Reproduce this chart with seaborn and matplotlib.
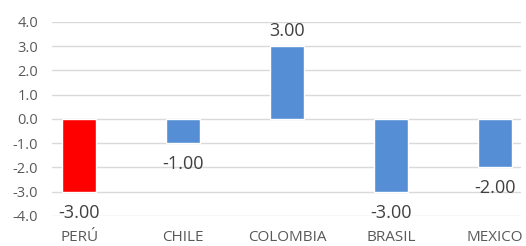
import numpy as np
import pandas as pd
import matplotlib
matplotlib.use("Agg")
import matplotlib.pyplot as plt
import seaborn as sns

# data
countries = ["PERÚ", "CHILE", "COLOMBIA", "BRASIL", "MEXICO"]
values = [-3.0, -1.0, 3.0, -3.0, -2.0]
bar_colors = ["#FF0000", "#558ED5", "#558ED5", "#558ED5", "#558ED5"]

sns.set_style("white")
plt.rcParams["font.family"] = ["Open Sans", "DejaVu Sans"]

df = pd.DataFrame({"country": countries, "value": values})

fig = plt.figure(figsize=(5.26, 2.46), dpi=100)
ax = fig.add_axes([0.099, 0.122, 0.891, 0.789])

sns.barplot(data=df, x="country", y="value", hue="country",
            palette=bar_colors, width=0.33, legend=False, ax=ax,
            saturation=1, zorder=3)

# value labels below negative bars, above positive ones
for i, v in enumerate(values):
    off = 15 if v > 0 else -21
    ax.annotate(f"{v:.2f}", (i, v), xytext=(0, off), textcoords="offset pixels",
                ha="center", va="center", fontsize=13, color="#404040")

ax.set_ylim(-4, 4)
ax.set_yticks(np.arange(-4, 4.1, 1))
ax.set_yticklabels([f"{v:.1f}" for v in np.arange(-4, 4.1, 1)])
ax.set_xlim(-0.26, 4.25)
ax.grid(axis="y", color="#D9D9D9", linewidth=1, zorder=0)
ax.set_axisbelow(True)
for s in ax.spines.values():
    s.set_visible(False)
ax.set_xlabel("")
ax.set_ylabel("")
ax.tick_params(axis="y", labelsize=10.5, colors="#595959", length=0, pad=10)
ax.tick_params(axis="x", labelsize=11, colors="#595959", length=0, pad=10)

fig.savefig("out.png", dpi=100)
